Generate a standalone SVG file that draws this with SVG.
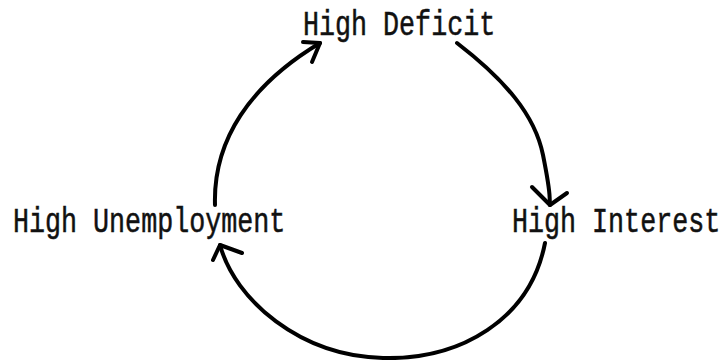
<svg xmlns="http://www.w3.org/2000/svg" width="724" height="360" viewBox="0 0 724 360">
<style>
.lbl{font-family:"Liberation Mono","Courier New",monospace;font-size:26.7px;fill:#111;stroke:#111;stroke-width:0.4px}
.arc{fill:none;stroke:#000;stroke-width:4;stroke-linecap:round;stroke-linejoin:round}
</style>
<rect width="724" height="360" fill="#fff"/>
<g id="node-high-deficit"><text class="lbl" transform="translate(303,35) scale(1,1.3)">High Deficit</text></g>
<g id="node-high-unemployment"><text class="lbl" transform="translate(13,232) scale(1,1.3)">High Unemployment</text></g>
<g id="node-high-interest"><text class="lbl" transform="translate(512,232) scale(1,1.3)">High Interest</text></g>
<g id="connectors">
<path class="arc" d="M215,205 C213,140 250,85 320,43"/>
<path class="arc" d="M303,42 L320,43 L312,62"/>
<path class="arc" d="M457,43 C505,80 535,115 543,155 S549,190 550,205"/>
<path class="arc" d="M532,187 L550,205 L567,193"/>
<path class="arc" d="M545,243 C530,320 460,360 383,358 C300,356 235,300 220,245"/>
<path class="arc" d="M213,260 L220,245 L242,253"/>
</g>
</svg>
